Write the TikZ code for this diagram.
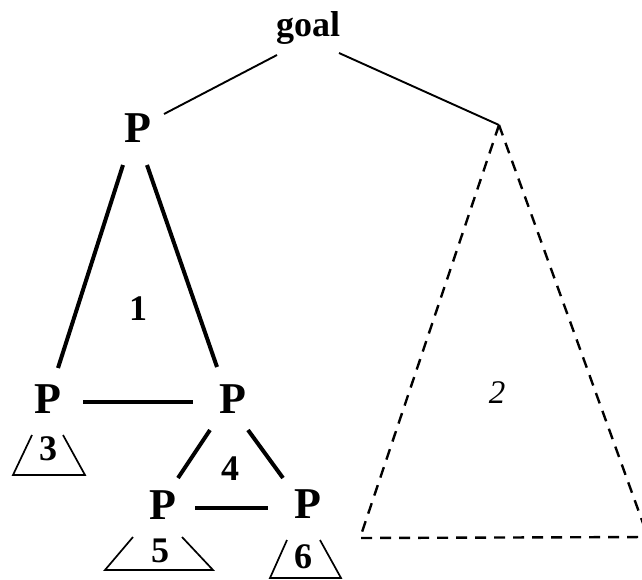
\documentclass[tikz,border=0pt]{standalone}
\usepackage{fontspec}
\setmainfont{Liberation Serif}
\begin{document}
\begin{tikzpicture}[x=1pt,y=-1pt,
  lbl/.style={anchor=base,inner sep=0pt,font=\fontsize{36}{36}\selectfont\bfseries},
  pnode/.style={anchor=base,inner sep=0pt,font=\fontsize{44}{44}\selectfont\bfseries},
  thin/.style={line width=1.9pt},
  heavy/.style={line width=4pt},
  dsh/.style={line width=2.4pt,dash pattern=on 11pt off 8pt},
  tri/.style={line width=1.7pt}]
\useasboundingbox (0,0) rectangle (642,579);
% labels
\node[lbl] (goal) at (308,36) {goal};
\node[pnode] (p1) at (138,142) {P};
\node[pnode] (p2) at (48,413) {P};
\node[pnode] (p3) at (233,413) {P};
\node[pnode] (p4) at (163,519) {P};
\node[pnode] (p5) at (308,518) {P};
\node[lbl] (n1) at (138,320) {1};
\node[anchor=base,inner sep=0pt,font=\fontsize{33}{33}\selectfont\itshape] (n2) at (497,403) {2};
\node[lbl] (n3) at (48,460) {3};
\node[lbl] (n4) at (230,480) {4};
\node[lbl] (n5) at (160,562) {5};
\node[lbl] (n6) at (303,568) {6};
% coordinates
\coordinate (gl) at (277,55);
\coordinate (gr) at (339,53);
\coordinate (p1r) at (164,114);
\coordinate (apex) at (499,125);
\coordinate (bl2) at (360,538);
\coordinate (br2) at (648,537);
\coordinate (p1a) at (123,165);
\coordinate (p1b) at (147,165);
\coordinate (p2t) at (58,368);
\coordinate (p3t) at (217,367);
\coordinate (h1a) at (83,402);
\coordinate (h1b) at (193,402);
\coordinate (p3a) at (210,430);
\coordinate (p3b) at (248,430);
\coordinate (p4t) at (178,478);
\coordinate (p5t) at (283,478);
\coordinate (h2a) at (195,508);
\coordinate (h2b) at (268,508);
% goal edges
\draw[thin] (gl) -- (p1r);
\draw[thin] (gr) -- (apex);
% dashed triangle 2
\draw[dsh,line join=miter] (apex) -- (bl2) -- (br2);
\draw[dsh] (apex) -- (br2);
% triangle 1
\draw[heavy] (p1a) -- (p2t);
\draw[heavy] (p1b) -- (p3t);
\draw[heavy] (h1a) -- (h1b);
% triangle 4
\draw[heavy] (p3a) -- (p4t);
\draw[heavy] (p3b) -- (p5t);
\draw[heavy] (h2a) -- (h2b);
% small triangles
\draw[tri] (32,435) -- (13,475) -- (85,475) -- (63,435);
\draw[tri] (133,537) -- (105,570) -- (213,570) -- (182,537);
\draw[tri] (287,540) -- (270,578) -- (341,578) -- (320,540);
\end{tikzpicture}
\end{document}
